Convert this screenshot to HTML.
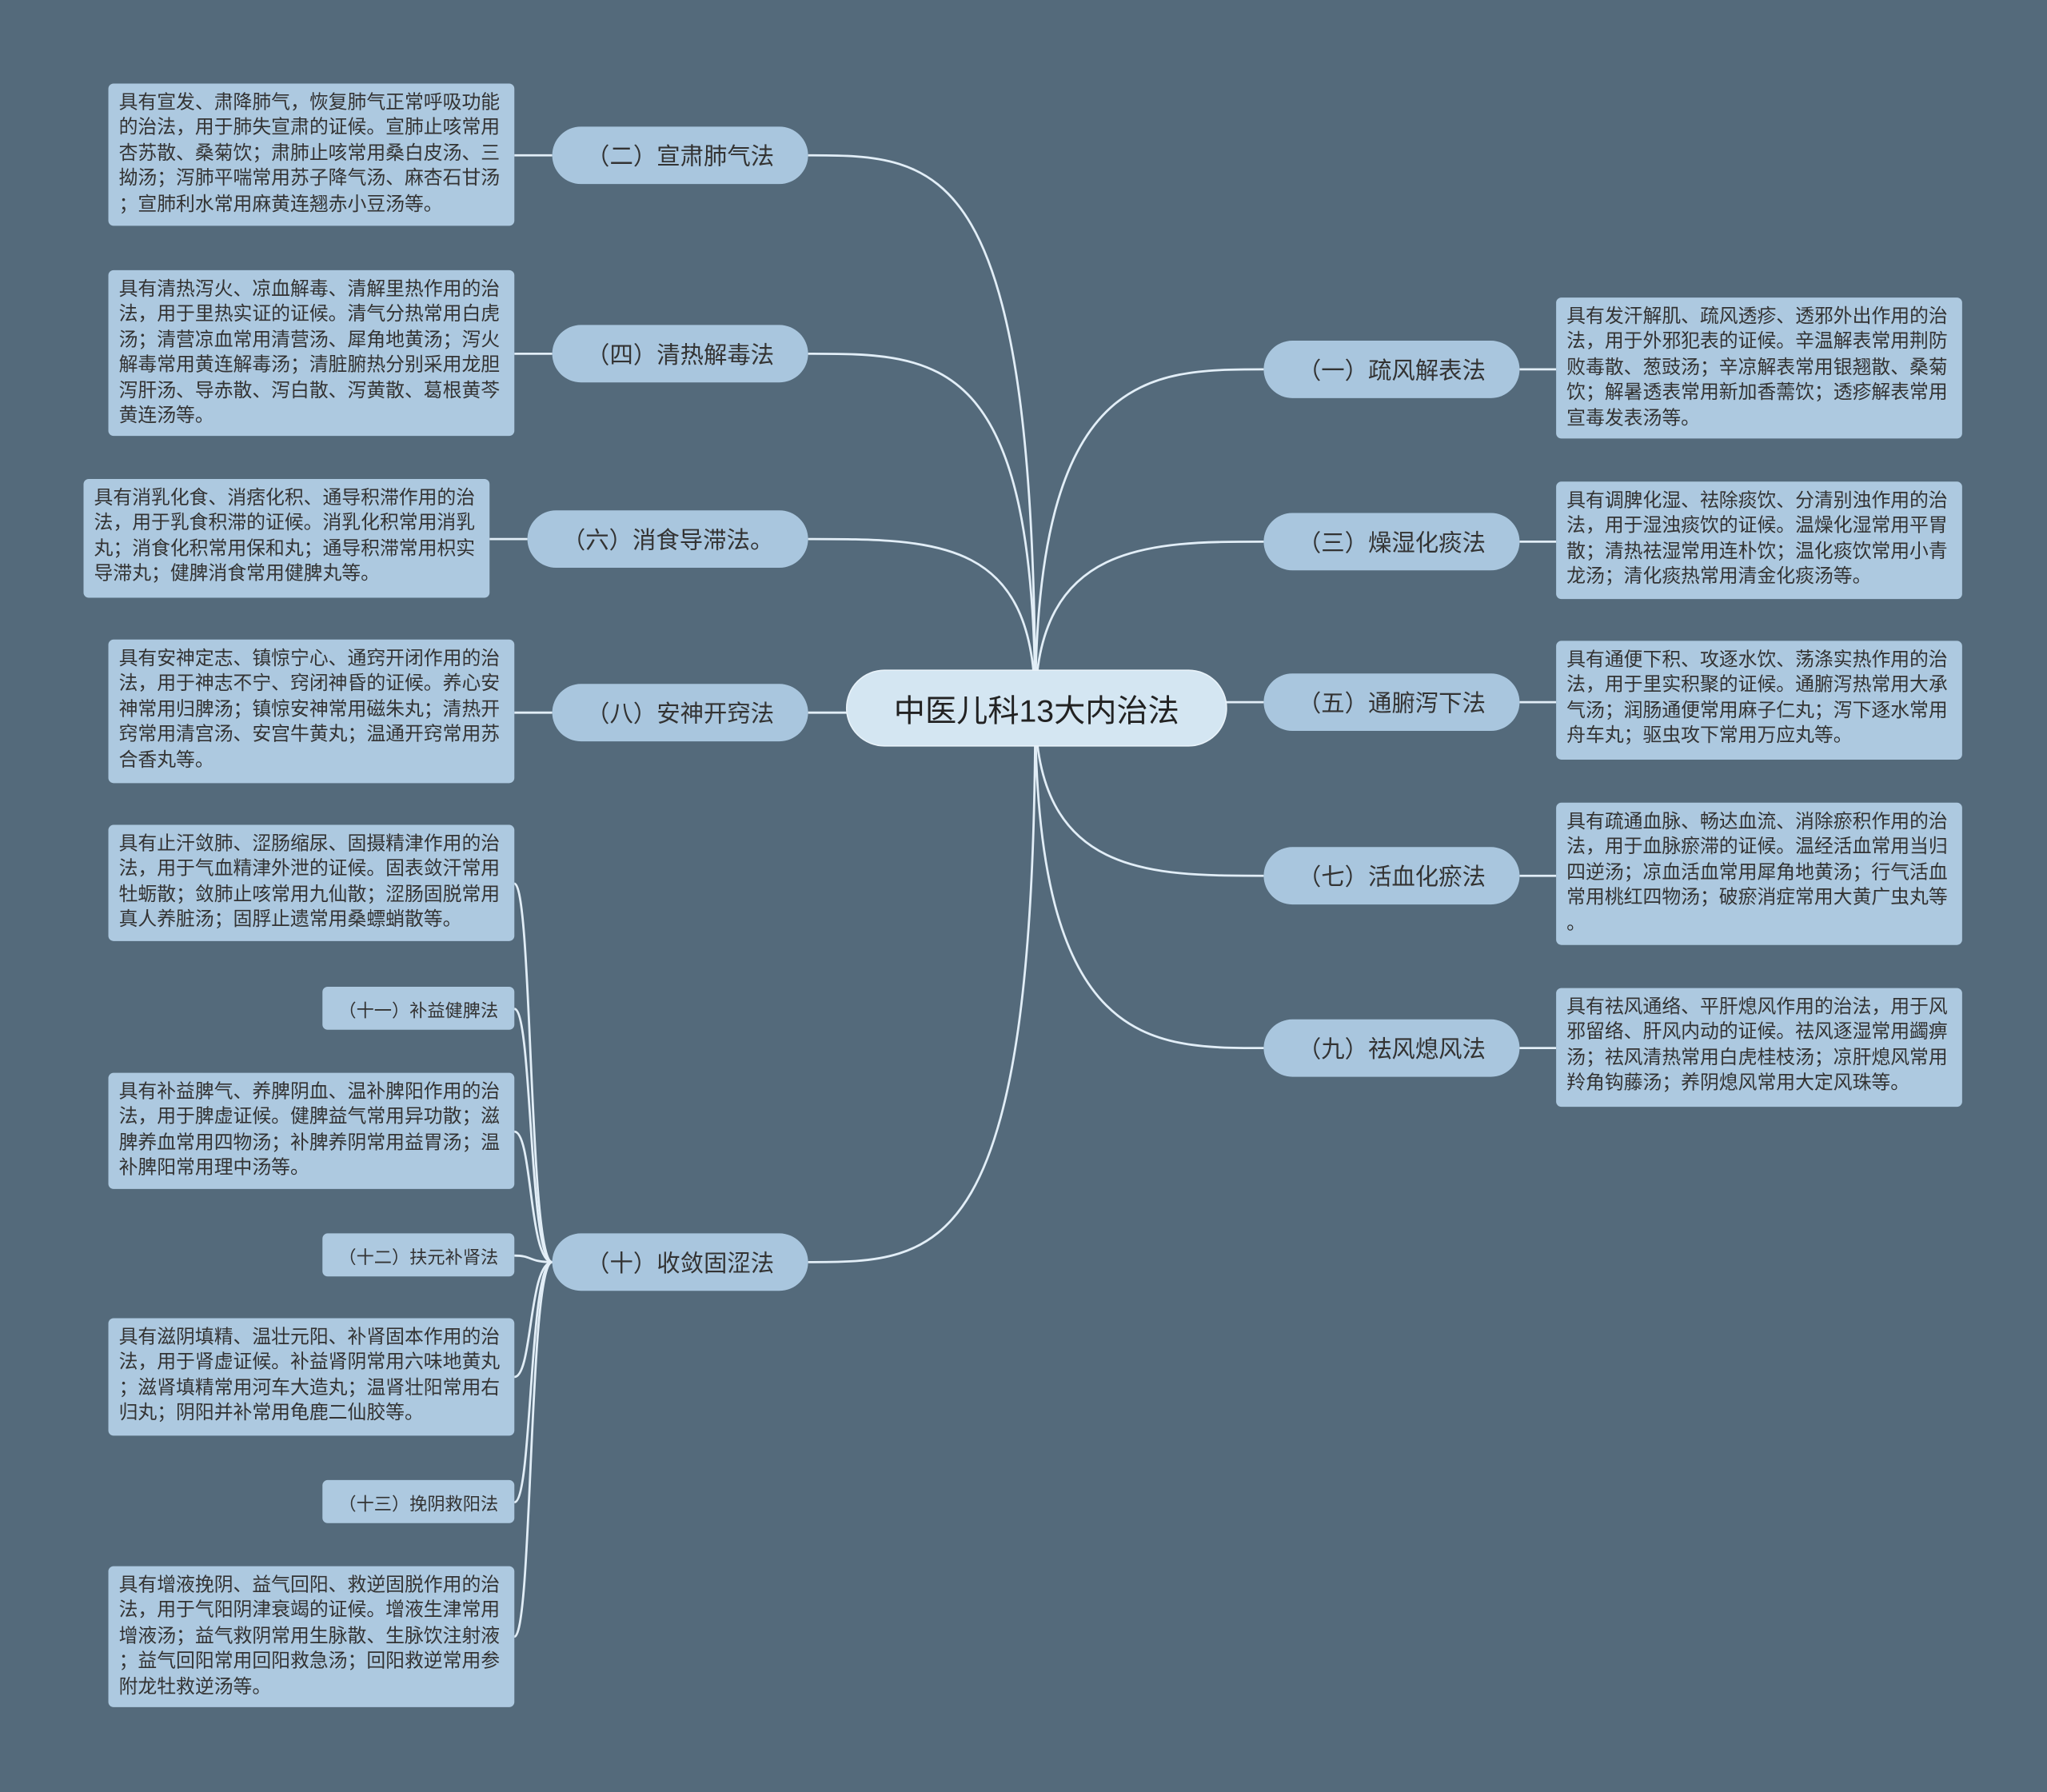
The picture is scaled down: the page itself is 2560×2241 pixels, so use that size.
<!DOCTYPE html>
<html><head><meta charset="utf-8"><style>
html,body{margin:0;padding:0;background:#546a7b;width:2560px;height:2241px;overflow:hidden}
#w{position:absolute;left:0;top:0;width:1568px;height:1373px;transform:scale(1.63265,1.6322);transform-origin:0 0;font-family:"Liberation Sans","Noto Sans CJK SC",sans-serif}
.n{position:absolute;background:#a9c6de;border-radius:22px;color:#333;font-size:18px;display:flex;align-items:center;justify-content:center;box-sizing:border-box}
.b{position:absolute;background:#adc9e0;border-radius:4px;color:#333;font-size:14.6px;line-height:19.4px;padding:6px 4px 0 8px;box-sizing:border-box;word-break:break-all;line-break:anywhere}
.s{position:absolute;background:#adc9e0;border-radius:4px;color:#333;font-size:13.6px;display:flex;align-items:center;justify-content:center;box-sizing:border-box}
</style></head><body><div id="w">
<svg width="1568" height="1373" style="position:absolute;left:0;top:0" fill="none" stroke="#e2eef7" stroke-width="1.7">
<path d="M793 542 C793 119 720 119 619 119"/>
<path d="M793 542 C793 271 720 271 619 271"/>
<path d="M793 542 C793 413 720 413 619 413"/>
<path d="M793 542 C793 546 720 546 619 546"/>
<path d="M793 542 C793 967 720 967 619 967"/>
<path d="M793 542 C793 283 880 283 968 283"/>
<path d="M793 542 C793 415 880 415 968 415"/>
<path d="M793 542 C793 538 880 538 968 538"/>
<path d="M793 542 C793 671 880 671 968 671"/>
<path d="M793 542 C793 803 880 803 968 803"/>
<path d="M423 119 L394 119"/><path d="M423 271 L394 271"/><path d="M404 413 L375 413"/><path d="M423 546 L394 546"/>
<path d="M1164 283 L1192 283"/><path d="M1164 415 L1192 415"/><path d="M1164 538 L1192 538"/><path d="M1164 671 L1192 671"/><path d="M1164 803 L1192 803"/>
<path d="M423 967 C405 967 408 677 394 677"/>
<path d="M423 967 C405 967 408 773 394 773"/>
<path d="M423 967 C405 967 408 867 394 867"/>
<path d="M423 967 C405 967 408 962 394 962"/>
<path d="M423 967 C405 967 408 1055 394 1055"/>
<path d="M423 967 C405 967 408 1151 394 1151"/>
<path d="M423 967 C405 967 408 1254 394 1254"/>
</svg>
<div class="n" style="left:648px;top:513px;width:292px;height:59px;border-radius:30px;background:#d4e6f2;font-size:24px;color:#222;border:1px solid #e8f2f9">中医儿科13大内治法</div>
<div class="n" style="left:423px;top:97px;width:196px;height:44px">（二）宣肃肺气法</div>
<div class="n" style="left:423px;top:249px;width:196px;height:44px">（四）清热解毒法</div>
<div class="n" style="left:404px;top:391px;width:215px;height:44px">（六）消食导滞法。</div>
<div class="n" style="left:423px;top:524px;width:196px;height:44px">（八）安神开窍法</div>
<div class="n" style="left:423px;top:945px;width:196px;height:44px">（十）收敛固涩法</div>
<div class="n" style="left:968px;top:261px;width:196px;height:44px">（一）疏风解表法</div>
<div class="n" style="left:968px;top:393px;width:196px;height:44px">（三）燥湿化痰法</div>
<div class="n" style="left:968px;top:516px;width:196px;height:44px">（五）通腑泻下法</div>
<div class="n" style="left:968px;top:649px;width:196px;height:44px">（七）活血化瘀法</div>
<div class="n" style="left:968px;top:781px;width:196px;height:44px">（九）祛风熄风法</div>

<div class="b" style="left:83px;top:64px;width:311px;height:109px">具有宣发、肃降肺气，恢复肺气正常呼吸功能的治法，用于肺失宣肃的证候。宣肺止咳常用杏苏散、桑菊饮；肃肺止咳常用桑白皮汤、三拗汤；泻肺平喘常用苏子降气汤、麻杏石甘汤；宣肺利水常用麻黄连翘赤小豆汤等。</div>
<div class="b" style="left:83px;top:207px;width:311px;height:127px">具有清热泻火、凉血解毒、清解里热作用的治法，用于里热实证的证候。清气分热常用白虎汤；清营凉血常用清营汤、犀角地黄汤；泻火解毒常用黄连解毒汤；清脏腑热分别采用龙胆泻肝汤、导赤散、泻白散、泻黄散、葛根黄芩黄连汤等。</div>
<div class="b" style="left:64px;top:367px;width:311px;height:91px">具有消乳化食、消痞化积、通导积滞作用的治法，用于乳食积滞的证候。消乳化积常用消乳丸；消食化积常用保和丸；通导积滞常用枳实导滞丸；健脾消食常用健脾丸等。</div>
<div class="b" style="left:83px;top:490px;width:311px;height:110px">具有安神定志、镇惊宁心、通窍开闭作用的治法，用于神志不宁、窍闭神昏的证候。养心安神常用归脾汤；镇惊安神常用磁朱丸；清热开窍常用清宫汤、安宫牛黄丸；温通开窍常用苏合香丸等。</div>
<div class="b" style="left:83px;top:632px;width:311px;height:89px">具有止汗敛肺、涩肠缩尿、固摄精津作用的治法，用于气血精津外泄的证候。固表敛汗常用牡蛎散；敛肺止咳常用九仙散；涩肠固脱常用真人养脏汤；固脬止遗常用桑螵蛸散等。</div>
<div class="s" style="left:247px;top:756px;width:147px;height:33px">（十一）补益健脾法</div>
<div class="b" style="left:83px;top:822px;width:311px;height:89px">具有补益脾气、养脾阴血、温补脾阳作用的治法，用于脾虚证候。健脾益气常用异功散；滋脾养血常用四物汤；补脾养阴常用益胃汤；温补脾阳常用理中汤等。</div>
<div class="s" style="left:247px;top:945px;width:147px;height:33px">（十二）扶元补肾法</div>
<div class="b" style="left:83px;top:1010px;width:311px;height:90px">具有滋阴填精、温壮元阳、补肾固本作用的治法，用于肾虚证候。补益肾阴常用六味地黄丸；滋肾填精常用河车大造丸；温肾壮阳常用右归丸；阴阳并补常用龟鹿二仙胶等。</div>
<div class="s" style="left:247px;top:1134px;width:147px;height:33px">（十三）挽阴救阳法</div>
<div class="b" style="left:83px;top:1200px;width:311px;height:108px">具有增液挽阴、益气回阳、救逆固脱作用的治法，用于气阳阴津衰竭的证候。增液生津常用增液汤；益气救阴常用生脉散、生脉饮注射液；益气回阳常用回阳救急汤；回阳救逆常用参附龙牡救逆汤等。</div>

<div class="b" style="left:1192px;top:228px;width:311px;height:108px">具有发汗解肌、疏风透疹、透邪外出作用的治法，用于外邪犯表的证候。辛温解表常用荆防败毒散、葱豉汤；辛凉解表常用银翘散、桑菊饮；解暑透表常用新加香薷饮；透疹解表常用宣毒发表汤等。</div>
<div class="b" style="left:1192px;top:369px;width:311px;height:90px">具有调脾化湿、祛除痰饮、分清别浊作用的治法，用于湿浊痰饮的证候。温燥化湿常用平胃散；清热祛湿常用连朴饮；温化痰饮常用小青龙汤；清化痰热常用清金化痰汤等。</div>
<div class="b" style="left:1192px;top:491px;width:311px;height:91px">具有通便下积、攻逐水饮、荡涤实热作用的治法，用于里实积聚的证候。通腑泻热常用大承气汤；润肠通便常用麻子仁丸；泻下逐水常用舟车丸；驱虫攻下常用万应丸等。</div>
<div class="b" style="left:1192px;top:615px;width:311px;height:109px">具有疏通血脉、畅达血流、消除瘀积作用的治法，用于血脉瘀滞的证候。温经活血常用当归四逆汤；凉血活血常用犀角地黄汤；行气活血常用桃红四物汤；破瘀消症常用大黄广虫丸等。</div>
<div class="b" style="left:1192px;top:757px;width:311px;height:91px">具有祛风通络、平肝熄风作用的治法，用于风邪留络、肝风内动的证候。祛风逐湿常用蠲痹汤；祛风清热常用白虎桂枝汤；凉肝熄风常用羚角钩藤汤；养阴熄风常用大定风珠等。</div>
</div></body></html>
